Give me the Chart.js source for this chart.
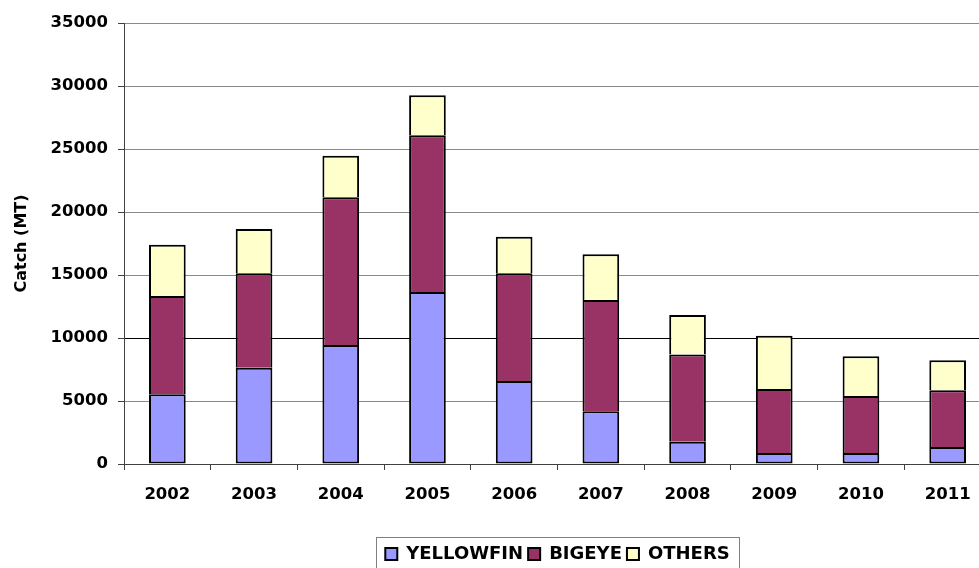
<!DOCTYPE html>
<html>
<head>
<meta charset="utf-8">
<script src="https://cdn.jsdelivr.net/npm/chart.js@4"></script>
<style>
  html, body { margin: 0; padding: 0; background: #fff; overflow: hidden; }
  #wrap { width: 1000px; height: 573px; }
</style>
</head>
<body>
<div id="wrap"><canvas id="c" width="1000" height="573"></canvas></div>
<script>
// Annual catch by species group, metric tonnes
const years = ['2002', '2003', '2004', '2005', '2006', '2007', '2008', '2009', '2010', '2011'];
const yellowfin = [5530, 7640, 9450, 13650, 6590, 4180, 1770, 870, 870, 1350];
const bigeye    = [7800, 7490, 11720, 12450, 8540, 8840, 6930, 5080, 4530, 4500];
const others    = [4070, 3520, 3300, 3160, 2910, 3620, 3130, 4230, 3150, 2380];
const yTicks    = [0, 5000, 10000, 15000, 20000, 25000, 30000, 35000];

const FONT = "'DejaVu Sans', sans-serif";

// Frame drawn around the legend entries
const legendFrame = {
  id: 'legendFrame',
  afterDraw(chart) {
    const lg = chart.legend;
    if (!lg || !lg.legendHitBoxes || !lg.legendHitBoxes.length) return;
    const boxes = lg.legendHitBoxes;
    const left = boxes[0].left - 9;
    const last = boxes[boxes.length - 1];
    const right = last.left + last.width + 10;
    const top = lg.top - 3;
    const ctx = chart.ctx;
    ctx.save();
    ctx.strokeStyle = '#808080';
    ctx.lineWidth = 1;
    ctx.strokeRect(Math.round(left) + 0.5, Math.round(top) + 0.5, Math.round(right - left), 60);
    ctx.restore();
  }
};

function series(label, data, color, skipped) {
  return {
    label, data,
    backgroundColor: color,
    borderColor: '#000',
    borderWidth: 2,
    borderSkipped: skipped,
    barPercentage: 0.423,
    categoryPercentage: 1.0
  };
}

new Chart(document.getElementById('c'), {
  type: 'bar',
  data: {
    labels: years,
    datasets: [
      series('YELLOWFIN', yellowfin, '#9999FF', false),
      series('BIGEYE', bigeye, '#993366', 'bottom'),
      series('OTHERS', others, '#FFFFCC', 'bottom')
    ]
  },
  options: {
    responsive: false,
    animation: false,
    layout: { padding: { top: 23, right: 9, left: 0, bottom: 0 } },
    plugins: {
      tooltip: { enabled: false },
      legend: {
        position: 'bottom',
        fullSize: false,
        labels: {
          color: '#000',
          font: { family: FONT, size: 18, weight: 'bold' },
          boxWidth: 12,
          boxHeight: 12,
          padding: 5
        }
      }
    },
    scales: {
      x: {
        stacked: true,
        grid: {
          offset: true,
          drawOnChartArea: false,
          drawTicks: true,
          tickLength: 6,
          color: '#404040'
        },
        border: { color: '#404040', width: 1 },
        ticks: {
          color: '#000',
          font: { family: FONT, size: 16.5, weight: 'bold' },
          padding: 15,
          maxRotation: 0,
          autoSkip: false
        },
        afterFit(scale) { scale.height = 76; }
      },
      y: {
        stacked: true,
        min: 0,
        max: 35000,
        afterBuildTicks(scale) { scale.ticks = yTicks.map(v => ({ value: v })); },
        grid: {
          color: ctx => (ctx.tick && ctx.tick.value === 10000) ? '#000' : '#8a8a8a',
          lineWidth: 1,
          tickLength: 6,
          tickColor: '#404040'
        },
        border: { color: '#404040', width: 1 },
        ticks: {
          color: '#000',
          font: { family: FONT, size: 16.5, weight: 'bold' },
          padding: 10,
          callback: v => String(v)
        },
        title: {
          display: true,
          text: 'Catch (MT)',
          color: '#000',
          font: { family: FONT, size: 16, weight: 'bold' },
          padding: { top: 12, bottom: 0 }
        },
        afterFit(scale) { scale.width = 124; }
      }
    }
  },
  plugins: [legendFrame]
});
</script>
</body>
</html>
